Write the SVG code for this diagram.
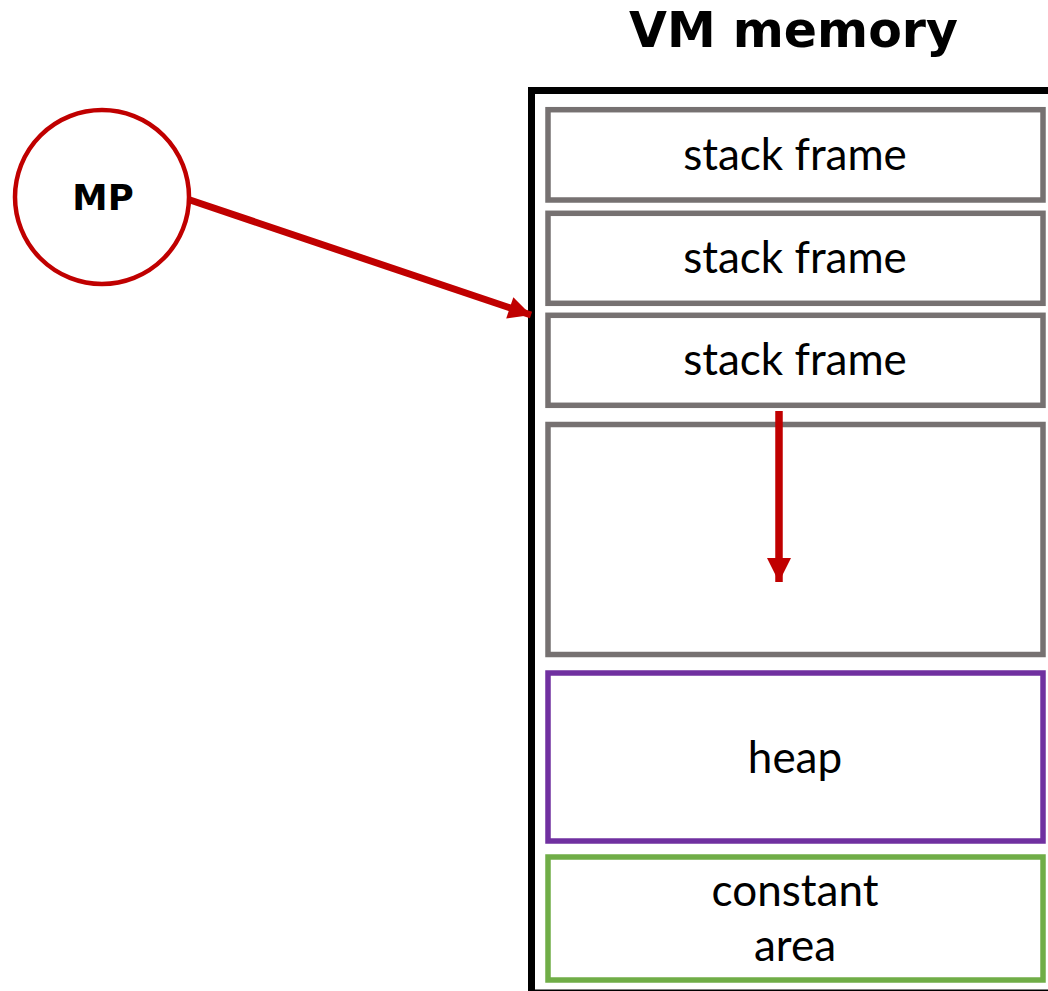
<svg xmlns="http://www.w3.org/2000/svg" width="1048" height="991" viewBox="0 0 1048 991">
  <style>
    .frame { fill: #FFFFFF; stroke: #767171; stroke-width: 5.5; }
    .heap { fill: #FFFFFF; stroke: #7030A0; stroke-width: 5.5; }
    .const { fill: #FFFFFF; stroke: #70AD47; stroke-width: 5.5; }
    .label { font-family: Lato, "Open Sans", "Liberation Sans", sans-serif; font-size: 44px; fill: #000000; text-anchor: middle; }
    .title { font-family: "DejaVu Sans", "Liberation Sans", sans-serif; font-weight: bold; font-size: 49px; fill: #000000; text-anchor: middle; }
    .mp { font-family: "DejaVu Sans", "Liberation Sans", sans-serif; font-weight: bold; font-size: 35.5px; fill: #000000; text-anchor: middle; }
    .conn { stroke: #C00000; fill: none; }
  </style>
  <defs>
    <marker id="head" viewBox="0 0 10 10" refX="10" refY="5" markerWidth="3.4" markerHeight="3.2" orient="auto" markerUnits="strokeWidth">
      <path d="M0,0 L10,5 L0,10 Z" fill="#C00000"/>
    </marker>
  </defs>
  <rect width="1048" height="991" fill="#FFFFFF"/>

  <g id="title">
    <text class="title" x="793.5" y="47">VM memory</text>
  </g>

  <!-- memory container, right and bottom edges run past the page -->
  <g id="vm-memory">
    <rect x="531.5" y="90.5" width="600" height="902.5" fill="none" stroke="#000000" stroke-width="7"/>
  </g>

  <g id="stack-frame-1">
    <rect class="frame" x="548" y="109.7" width="495" height="90.3"/>
    <text class="label" x="795" y="170">stack frame</text>
  </g>
  <g id="stack-frame-2">
    <rect class="frame" x="548" y="213.3" width="495" height="90"/>
    <text class="label" x="795" y="273">stack frame</text>
  </g>
  <g id="stack-frame-3">
    <rect class="frame" x="548" y="315.3" width="495" height="90"/>
    <text class="label" x="795" y="375">stack frame</text>
  </g>
  <g id="stack-free">
    <rect class="frame" x="548" y="424.5" width="495" height="230"/>
  </g>
  <g id="heap">
    <rect class="heap" x="548" y="673" width="495" height="168"/>
    <text class="label" x="795" y="773">heap</text>
  </g>
  <g id="constant-area">
    <rect class="const" x="548" y="857" width="495" height="123"/>
    <text class="label" x="795" y="906">constant</text>
    <text class="label" x="795" y="961">area</text>
  </g>

  <g id="mp">
    <circle cx="102" cy="197" r="87" fill="#FFFFFF" stroke="#C00000" stroke-width="4.5"/>
    <text class="mp" x="103" y="210">MP</text>
  </g>

  <g id="connectors">
    <line class="conn" x1="190" y1="200" x2="531" y2="315" stroke-width="7" marker-end="url(#head)"/>
    <line class="conn" x1="779" y1="411" x2="779" y2="582" stroke-width="7.5" marker-end="url(#head)"/>
  </g>
</svg>
